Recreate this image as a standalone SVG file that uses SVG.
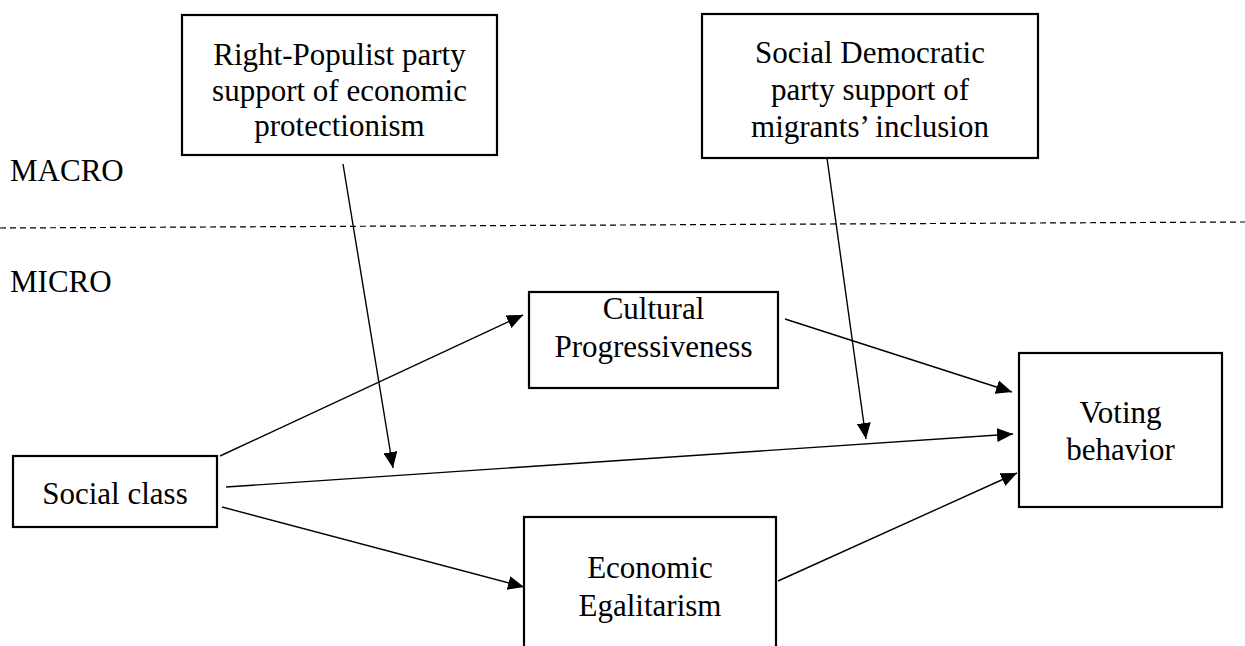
<svg xmlns="http://www.w3.org/2000/svg" width="1245" height="646" viewBox="0 0 1245 646">
<style>
  .box { fill: #fff; stroke: #000; stroke-width: 2.2; }
  .t { font-family: "Liberation Serif", "Times New Roman", serif; font-size: 31px; fill: #000; text-anchor: middle; }
  .lbl { font-family: "Liberation Serif", "Times New Roman", serif; font-size: 31px; fill: #000; }
  .c { stroke: #000; stroke-width: 1.4; fill: none; marker-end: url(#ah); }
  .dash { stroke: #000; stroke-width: 1.2; stroke-dasharray: 6 4; fill: none; }
</style>
<defs>
  <marker id="ah" markerUnits="userSpaceOnUse" markerWidth="16" markerHeight="14" refX="16" refY="7" orient="auto">
    <path d="M0,0 L16,7 L0,14 Z" fill="#000"/>
  </marker>
</defs>
<rect width="1245" height="646" fill="#fff"/>
<g id="levels">
  <text class="lbl" x="10" y="181">MACRO</text>
  <text class="lbl" x="10" y="292">MICRO</text>
  <line class="dash" x1="0" y1="228" x2="1245" y2="222"/>
</g>
<g id="connectors">
  <line class="c" x1="343" y1="164" x2="393" y2="468"/>
  <line class="c" x1="827" y1="158" x2="866" y2="439"/>
  <line class="c" x1="220" y1="456" x2="523" y2="315"/>
  <line class="c" x1="226" y1="487" x2="1013" y2="434"/>
  <line class="c" x1="785" y1="319" x2="1012" y2="392"/>
  <line class="c" x1="778" y1="581" x2="1017" y2="473"/>
  <line class="c" x1="222" y1="507" x2="524" y2="587"/>
</g>
<g id="rightpopulist">
  <rect class="box" x="182" y="15" width="315" height="140"/>
  <text class="t" x="339.5" y="65">Right-Populist party</text>
  <text class="t" x="339.5" y="100.5">support of economic</text>
  <text class="t" x="339.5" y="136">protectionism</text>
</g>
<g id="socialdemocratic">
  <rect class="box" x="702" y="14" width="336" height="144"/>
  <text class="t" x="870" y="63">Social Democratic</text>
  <text class="t" x="870" y="100">party support of</text>
  <text class="t" x="870" y="137">migrants’ inclusion</text>
</g>
<g id="socialclass">
  <rect class="box" x="13" y="456" width="204" height="71"/>
  <text class="t" x="115" y="504">Social class</text>
</g>
<g id="cultural">
  <rect class="box" x="529" y="292" width="249" height="96"/>
  <text class="t" x="653.5" y="319">Cultural</text>
  <text class="t" x="653.5" y="357">Progressiveness</text>
</g>
<g id="economic">
  <rect class="box" x="524" y="517" width="252" height="140"/>
  <text class="t" x="650" y="578">Economic</text>
  <text class="t" x="650" y="616">Egalitarism</text>
</g>
<g id="voting">
  <rect class="box" x="1019" y="353" width="203" height="154"/>
  <text class="t" x="1120.5" y="423">Voting</text>
  <text class="t" x="1120.5" y="460">behavior</text>
</g>
</svg>
